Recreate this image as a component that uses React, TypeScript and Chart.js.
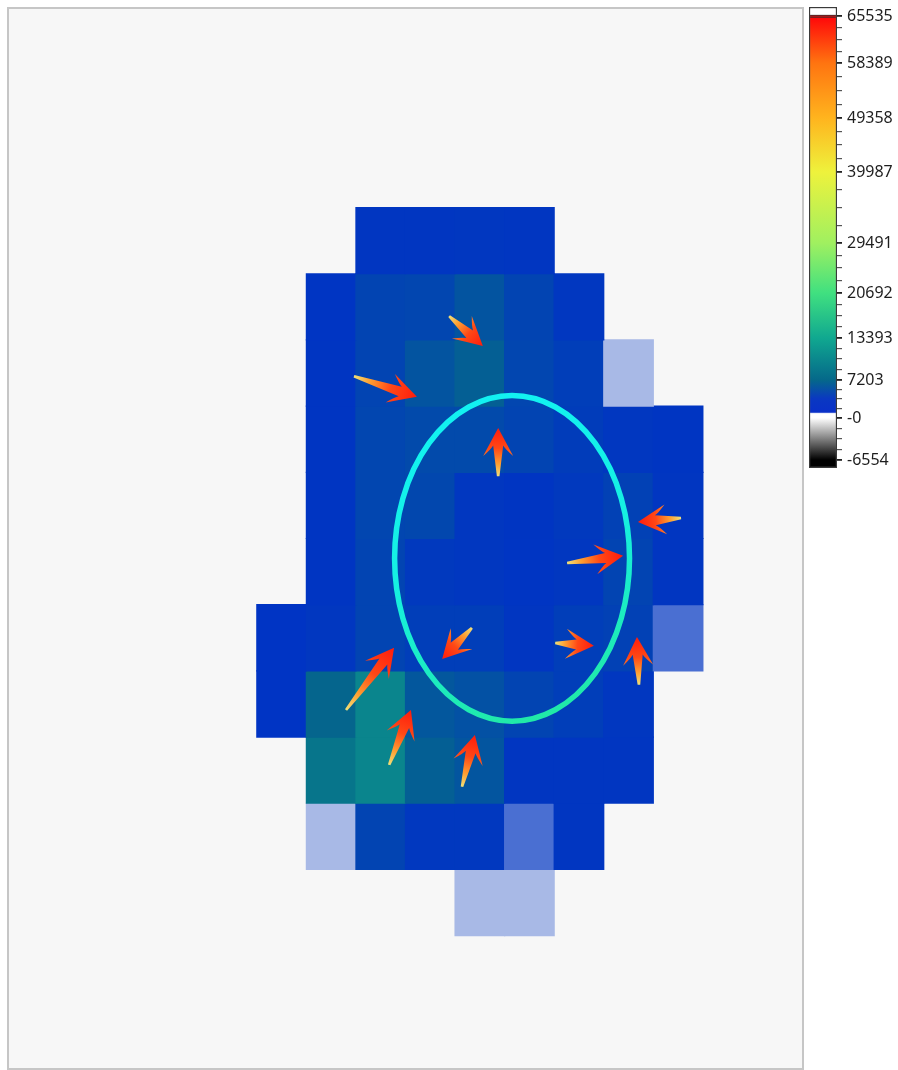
import React, { useEffect, useRef } from 'react';
import { Chart, registerables } from 'chart.js';

Chart.register(...registerables);

// ---------- data ----------
const N_COLS = 16;
const N_ROWS = 16;
const COL_LABELS = ['0', '1', '2', '3', '4', '5', '6', '7', '8', '9', '10', '11', '12', '13', '14', '15'];

const n = null;
// intensity per cell (row 0 = top)
const CELL_VALUES: (number | null)[][] = [
  [n, n, n, n, n, n, n, n, n, n, n, n, n, n, n, n],
  [n, n, n, n, n, n, n, n, n, n, n, n, n, n, n, n],
  [n, n, n, n, n, n, n, n, n, n, n, n, n, n, n, n],
  [n, n, n, n, n, n, n, 800, 800, 900, 800, n, n, n, n, n],
  [n, n, n, n, n, n, 600, 2600, 2800, 4600, 2600, 900, n, n, n, n],
  [n, n, n, n, n, n, 700, 2600, 4600, 6000, 2800, 1800, 600, n, n, n],
  [n, n, n, n, n, n, 700, 2800, 3400, 3400, 2600, 1600, 900, 700, n, n],
  [n, n, n, n, n, n, 700, 2800, 3000, 900, 700, 1200, 2200, 800, n, n],
  [n, n, n, n, n, n, 700, 2600, 1200, 900, 600, 900, 2600, 800, n, n],
  [n, n, n, n, n, 500, 900, 2600, 1800, 1800, 800, 1800, 2200, 700, n, n],
  [n, n, n, n, n, 500, 6800, 10000, 5000, 4200, 2600, 1800, 900, n, n, n],
  [n, n, n, n, n, n, 8500, 10000, 6000, 4800, 800, 800, 800, n, n, n],
  [n, n, n, n, n, n, 700, 2600, 1000, 1000, 700, 800, n, n, n, n],
  [n, n, n, n, n, n, n, n, n, 700, 700, n, n, n, n, n],
  [n, n, n, n, n, n, n, n, n, n, n, n, n, n, n, n],
  [n, n, n, n, n, n, n, n, n, n, n, n, n, n, n, n],
];

// partially covered cells (fraction of coverage)
const COVER_ROWS = [5, 9, 12, 12, 13, 13];
const COVER_COLS = [12, 13, 6, 10, 9, 10];
const COVER_FRAC = [0.32, 0.7, 0.32, 0.7, 0.32, 0.32];

// colour scale
const CB_VALUES = [-6554, 0, 7203, 13393, 20692, 29491, 39987, 49358, 58389, 65535];
const CB_TEXT = ['-6554', '-0', '7203', '13393', '20692', '29491', '39987', '49358', '58389', '65535'];
const CB_POS = [0.0174, 0.1085, 0.1909, 0.282, 0.3796, 0.4881, 0.6421, 0.7592, 0.8785, 0.9805];
const CMAP_VALUES = [-6554, 0, 0, 7203, 13393, 20692, 29491, 39987, 49358, 58389, 65535];
const CMAP_COLORS = ['#000000', '#ffffff', '#0030c8', '#05688a', '#10a890', '#40e080', '#a0f060', '#eef23c', '#ffb41e', '#ff7410', '#ff1010'];

// ellipse (grid units)
const ELLIPSE_CX = 10.15;
const ELLIPSE_CY = 8.3;
const ELLIPSE_RX = 2.37;
const ELLIPSE_RY = 2.46;

// arrows (grid units)
const ARROW_TAIL_X = [8.88, 6.96, 9.87, 13.56, 11.26, 11.02, 12.71, 9.34, 6.8, 7.67, 9.14];
const ARROW_TAIL_Y = [4.64, 5.55, 7.06, 7.69, 8.37, 9.58, 10.21, 9.35, 10.59, 11.42, 11.75];
const ARROW_TIP_X = [9.56, 8.23, 9.87, 12.69, 12.39, 11.8, 12.67, 8.74, 7.77, 8.11, 9.4];
const ARROW_TIP_Y = [5.09, 5.86, 6.33, 7.75, 8.26, 9.62, 9.49, 9.82, 9.65, 10.59, 10.97];

// ---------- helpers ----------
const PANEL_BG = '#f7f7f7';

function hexToRgb(h: string) {
  const v = parseInt(h.slice(1), 16);
  return [(v >> 16) & 255, (v >> 8) & 255, v & 255];
}

function cmap(v: number) {
  for (let i = 1; i < CMAP_VALUES.length; i++) {
    if (CMAP_VALUES[i] > CMAP_VALUES[i - 1] && v <= CMAP_VALUES[i]) {
      const t = Math.max(0, Math.min(1, (v - CMAP_VALUES[i - 1]) / (CMAP_VALUES[i] - CMAP_VALUES[i - 1])));
      const a = hexToRgb(CMAP_COLORS[i - 1]);
      const b = hexToRgb(CMAP_COLORS[i]);
      return a.map((c, k) => Math.round(c + (b[k] - c) * t));
    }
  }
  return hexToRgb(CMAP_COLORS[CMAP_COLORS.length - 1]);
}

function coverage(r: number, c: number) {
  for (let i = 0; i < COVER_ROWS.length; i++) {
    if (COVER_ROWS[i] === r && COVER_COLS[i] === c) return COVER_FRAC[i];
  }
  return 1;
}

function drawArrow(ctx: CanvasRenderingContext2D, x0: number, y0: number, x1: number, y1: number) {
  const dx = x1 - x0, dy = y1 - y0;
  const L = Math.hypot(dx, dy);
  const ux = dx / L, uy = dy / L;
  const nx = -uy, ny = ux;
  const P = (b: number, l: number) => [x1 - ux * b + nx * l, y1 - uy * b + ny * l];
  const hb = 28, hw = 15, nb = 17.5, nw = 5, tw = 1.3;
  ctx.beginPath();
  let p = P(0, 0);
  ctx.moveTo(p[0], p[1]);
  let c = P(13, 7);
  let b = P(hb, hw);
  ctx.quadraticCurveTo(c[0], c[1], b[0], b[1]);
  c = P(21, 7);
  p = P(nb, nw);
  ctx.quadraticCurveTo(c[0], c[1], p[0], p[1]);
  p = P(L, tw); ctx.lineTo(p[0], p[1]);
  p = P(L, -tw); ctx.lineTo(p[0], p[1]);
  p = P(nb, -nw); ctx.lineTo(p[0], p[1]);
  c = P(21, -7);
  b = P(hb, -hw);
  ctx.quadraticCurveTo(c[0], c[1], b[0], b[1]);
  c = P(13, -7);
  p = P(0, 0);
  ctx.quadraticCurveTo(c[0], c[1], p[0], p[1]);
  ctx.closePath();
  const g = ctx.createLinearGradient(x0, y0, x1, y1);
  g.addColorStop(0, '#efe07a');
  g.addColorStop(0.25, '#ffa032');
  g.addColorStop(0.58, '#ff4816');
  g.addColorStop(1, '#ff1c0c');
  ctx.fillStyle = g;
  ctx.fill();
}

const overlayPlugin = {
  id: 'overlay',
  beforeDraw(chart: any) {
    const { ctx, chartArea: a } = chart;
    ctx.save();
    ctx.fillStyle = '#ffffff';
    ctx.fillRect(0, 0, chart.width, chart.height);
    ctx.fillStyle = PANEL_BG;
    ctx.fillRect(a.left, a.top, a.width, a.height);
    ctx.restore();
  },
  afterDatasetsDraw(chart: any) {
    const { ctx } = chart;
    const xs = chart.scales.xl;
    const ys = chart.scales.y;
    ctx.save();
    // ellipse
    const cx = xs.getPixelForValue(ELLIPSE_CX);
    const cy = ys.getPixelForValue(ELLIPSE_CY);
    const rx = Math.abs(xs.getPixelForValue(ELLIPSE_CX + ELLIPSE_RX) - cx);
    const ry = Math.abs(ys.getPixelForValue(ELLIPSE_CY + ELLIPSE_RY) - cy);
    const g = ctx.createLinearGradient(cx - rx * 0.3, cy - ry, cx + rx * 0.6, cy + ry);
    g.addColorStop(0, '#12f2f2');
    g.addColorStop(0.45, '#16f0e2');
    g.addColorStop(1, '#22e8a2');
    ctx.strokeStyle = g;
    ctx.lineWidth = 5.5;
    ctx.beginPath();
    ctx.ellipse(cx, cy, rx, ry, 0, 0, Math.PI * 2);
    ctx.stroke();
    // arrows
    for (let i = 0; i < ARROW_TAIL_X.length; i++) {
      drawArrow(
        ctx,
        xs.getPixelForValue(ARROW_TAIL_X[i]),
        ys.getPixelForValue(ARROW_TAIL_Y[i]),
        xs.getPixelForValue(ARROW_TIP_X[i]),
        ys.getPixelForValue(ARROW_TIP_Y[i])
      );
    }
    ctx.restore();
  },
  afterDraw(chart: any) {
    const { ctx, chartArea: a } = chart;
    ctx.save();
    ctx.strokeStyle = '#c6c6c6';
    ctx.lineWidth = 2;
    ctx.strokeRect(a.left - 1, a.top - 1, a.width + 2, a.height + 2);
    ctx.restore();
  },
};

export default function App() {
  const mainRef = useRef<HTMLCanvasElement>(null);
  const cbRef = useRef<HTMLCanvasElement>(null);

  useEffect(() => {
    const bg = hexToRgb(PANEL_BG);
    const datasets: any[] = [];
    for (let r = 0; r < N_ROWS; r++) {
      const row = CELL_VALUES[r];
      if (!row.some((v) => v !== null)) continue;
      datasets.push({
        label: 'row ' + r,
        data: row.map((v) => (v === null ? null : [r, r + 1])),
        backgroundColor: row.map((v, c) => {
          if (v === null) return 'rgba(0,0,0,0)';
          const rgb = cmap(v);
          const f = coverage(r, c);
          const m = rgb.map((x, k) => Math.round(x * f + bg[k] * (1 - f)));
          return `rgb(${m[0]},${m[1]},${m[2]})`;
        }),
        borderWidth: 0,
        inflateAmount: 0.6,
        barPercentage: 1,
        categoryPercentage: 1,
        grouped: false,
      });
    }

    const main = new Chart(mainRef.current!, {
      type: 'bar',
      data: { labels: COL_LABELS.slice(0, N_COLS), datasets },
      options: {
        responsive: false,
        animation: false,
        events: [],
        layout: { padding: { left: 9, top: 9, right: 4, bottom: 2 } },
        plugins: { legend: { display: false }, tooltip: { enabled: false } },
        scales: {
          x: { type: 'category', display: false, offset: true },
          xl: { type: 'linear', axis: 'x', min: 0, max: N_COLS, display: false, offset: false, grid: { offset: false } },
          y: { type: 'linear', min: 0, max: N_ROWS, reverse: true, display: false, offset: false },
        },
      } as any,
      plugins: [overlayPlugin],
    });

    // colour bar ticks (major + minor)
    const ticks: { value: number; label: string; major: boolean }[] = [];
    for (let i = 0; i < CB_POS.length; i++) {
      ticks.push({ value: CB_POS[i], label: CB_TEXT[i], major: true });
      if (i < CB_POS.length - 1) {
        for (let k = 1; k <= 3; k++) {
          ticks.push({ value: CB_POS[i] + ((CB_POS[i + 1] - CB_POS[i]) * k) / 4, label: '', major: false });
        }
      }
    }
    ticks.sort((a, b) => a.value - b.value);

    const cbFill = (c: any) => {
      const chart = c.chart;
      const a = chart.chartArea;
      if (!a) return '#0030c8';
      const g = chart.ctx.createLinearGradient(0, a.bottom, 0, a.top);
      g.addColorStop(0, '#000000');
      g.addColorStop(CB_POS[0], '#000000');
      g.addColorStop(CB_POS[1], '#ffffff');
      g.addColorStop(0.118, '#ffffff');
      g.addColorStop(0.121, '#0a30c8');
      g.addColorStop(0.15, '#0a38c2');
      for (let i = 2; i < CB_VALUES.length; i++) {
        const rgb = cmap(CB_VALUES[i]);
        g.addColorStop(CB_POS[i], `rgb(${rgb[0]},${rgb[1]},${rgb[2]})`);
      }
      g.addColorStop(0.976, '#ff0a0a');
      g.addColorStop(0.978, '#2a2a2a');
      g.addColorStop(0.982, '#2a2a2a');
      g.addColorStop(0.984, '#ffffff');
      g.addColorStop(1, '#ffffff');
      return g;
    };

    const cb = new Chart(cbRef.current!, {
      type: 'bar',
      data: {
        labels: ['scale'],
        datasets: [
          {
            data: [[0, 1]] as any,
            backgroundColor: cbFill,
            borderColor: '#3a3a3a',
            borderWidth: 1.5,
            borderSkipped: false,
            barPercentage: 1,
            categoryPercentage: 1,
          },
        ],
      },
      options: {
        responsive: false,
        animation: false,
        events: [],
        layout: { padding: { left: 3, top: 7, right: 0, bottom: 602 } },
        plugins: { legend: { display: false }, tooltip: { enabled: false } },
        scales: {
          x: { display: false },
          y: {
            type: 'linear',
            position: 'right',
            min: 0,
            max: 1,
            afterFit: (s: any) => {
              s.width = 61;
              s.paddingTop = 0;
              s.paddingBottom = 0;
            },
            afterBuildTicks: (s: any) => {
              s.ticks = ticks.map((t) => ({ value: t.value }));
            },
            ticks: {
              autoSkip: false,
              padding: 5,
              color: '#1e1e1e',
              font: { family: '"Noto Sans", sans-serif', size: 16 },
              callback: (_v: any, i: number) => ticks[i].label,
            },
            grid: {
              drawOnChartArea: false,
              drawTicks: true,
              tickLength: 5,
              color: (c: any) => (ticks[c.index] && ticks[c.index].major ? '#222222' : '#555555'),
              lineWidth: (c: any) => (ticks[c.index] && ticks[c.index].major ? 1.8 : 1.2),
            },
            border: { display: false },
          },
        },
      } as any,
    });

    return () => {
      main.destroy();
      cb.destroy();
    };
  }, []);

  return (
    <div style={{ position: 'absolute', left: 0, top: 0, width: 898, height: 1070, background: '#ffffff' }}>
      <canvas ref={mainRef} width={806} height={1070} style={{ position: 'absolute', left: 0, top: 0 }} />
      <canvas ref={cbRef} width={92} height={1070} style={{ position: 'absolute', left: 806, top: 0 }} />
    </div>
  );
}
